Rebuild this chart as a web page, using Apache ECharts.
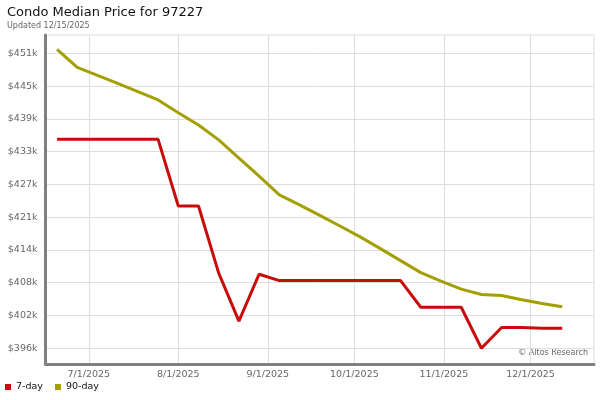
<!DOCTYPE html>
<html>
<head>
<meta charset="utf-8">
<script src="https://cdn.jsdelivr.net/npm/echarts@6/dist/echarts.min.js"></script>
<style>html,body{margin:0;padding:0;background:#fff}#c{width:600px;height:400px}</style>
</head>
<body>
<div id="c"></div>
<script>
var dates = ['2025-06-20','2025-06-27','2025-07-04','2025-07-11','2025-07-18','2025-07-25',
  '2025-08-01','2025-08-08','2025-08-15','2025-08-22','2025-08-29','2025-09-05','2025-09-12',
  '2025-09-19','2025-09-26','2025-10-03','2025-10-10','2025-10-17','2025-10-24','2025-10-31',
  '2025-11-07','2025-11-14','2025-11-21','2025-11-28','2025-12-05','2025-12-12'];
var sevenDay = [435200,435200,435200,435200,435200,435200,422700,422700,410100,401100,409900,
  408700,408700,408700,408700,408700,408700,408700,403700,403700,403700,396000,399900,399900,399750,399750];
var ninetyDay = [452100,448700,447200,445700,444150,442600,440200,437900,435100,431700,428300,
  424800,422900,420950,418950,416900,414700,412450,410200,408600,407100,406100,405900,405100,404400,403800];
var yTickValues = [396000,402150,408300,414450,420600,426750,432900,439050,445200,451350];
var yTickLabels = ['$396k','$402k','$408k','$414k','$421k','$427k','$433k','$439k','$445k','$451k'];
var xTickDates = ['2025-07-01','2025-08-01','2025-09-01','2025-10-01','2025-11-01','2025-12-01'];
var xTickLabels = ['7/1/2025','8/1/2025','9/1/2025','10/1/2025','11/1/2025','12/1/2025'];

function ts(s){var p=s.split('-');return Date.UTC(+p[0],+p[1]-1,+p[2]);}
var xTickTs = xTickDates.map(ts);

var chart = echarts.init(document.getElementById('c'), null, {renderer:'canvas'});
chart.setOption({
  animation:false,
  title:{text:'Condo Median Price for 97227', subtext:'Updated 12/15/2025', left:2, top:1, itemGap:3,
    textStyle:{fontFamily:'DejaVu Sans', fontSize:13, fontWeight:'normal', color:'#111'},
    subtextStyle:{fontFamily:'DejaVu Sans', fontSize:8, color:'#666'}},
  legend:{left:0, top:377, icon:'rect', itemWidth:6, itemHeight:6, itemGap:12,
    textStyle:{fontFamily:'DejaVu Sans', fontSize:9.5, color:'#111'},
    data:['7-day','90-day']},
  grid:{left:45.5, right:6, top:35, bottom:36, show:true, borderColor:'#dddddd', borderWidth:1},
  xAxis:{type:'value', min:ts('2025-06-16'), max:ts('2025-12-23'),
    axisLine:{show:true, lineStyle:{color:'#808080', width:3}},
    axisTick:{show:false, customValues:xTickTs},
    splitLine:{show:true, lineStyle:{color:'#dddddd', width:1}},
    axisLabel:{customValues:xTickTs, margin:6, fontFamily:'DejaVu Sans', fontSize:9.5, color:'#666',
      formatter:function(v){var i=xTickTs.indexOf(v);return i>=0?xTickLabels[i]:'';}}},
  yAxis:{type:'value', min:393050, max:454785,
    axisLine:{show:true, lineStyle:{color:'#808080', width:3}},
    axisTick:{show:false, customValues:yTickValues},
    splitLine:{show:true, lineStyle:{color:'#dddddd', width:1}},
    axisLabel:{customValues:yTickValues, margin:8, fontFamily:'DejaVu Sans', fontSize:9.5, color:'#666',
      formatter:function(v){var i=yTickValues.indexOf(v);return i>=0?yTickLabels[i]:'';}}},
  graphic:[{type:'text', right:12, top:349, style:{text:'\u00a9 Altos Research', fontFamily:'DejaVu Sans', fontSize:8, fill:'#666'}}],
  series:[
    {name:'7-day', type:'line', showSymbol:false, symbol:'none', lineStyle:{width:3, color:'#c80c0c'}, itemStyle:{color:'#c80c0c'},
      data:dates.map(function(d,i){return [ts(d), sevenDay[i]];})},
    {name:'90-day', type:'line', showSymbol:false, symbol:'none', lineStyle:{width:3, color:'#a39f00'}, itemStyle:{color:'#a39f00'},
      data:dates.map(function(d,i){return [ts(d), ninetyDay[i]];})}
  ]
});
</script>
</body>
</html>
